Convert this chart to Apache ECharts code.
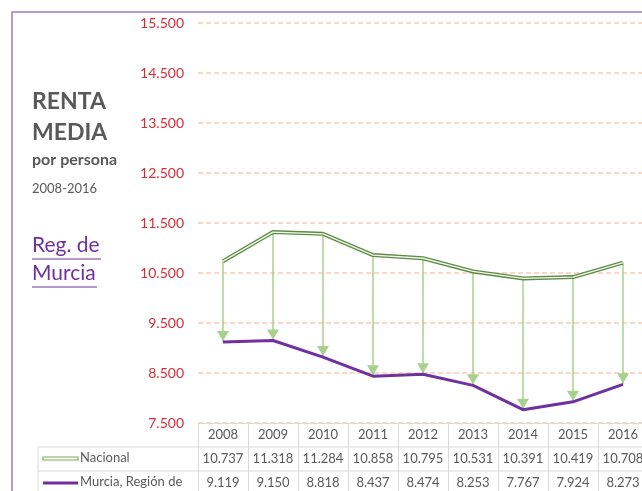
<!DOCTYPE html>
<html>
<head>
<meta charset="utf-8">
<script src="https://cdn.jsdelivr.net/npm/echarts@6/dist/echarts.min.js"></script>
<style>
  html, body { margin: 0; padding: 0; overflow: hidden; background: #fff; }
  #chart { width: 660px; height: 500px; }
</style>
</head>
<body>
<div id="chart"></div>
<script>
// datos
const years = ['2008', '2009', '2010', '2011', '2012', '2013', '2014', '2015', '2016']
const nacional = [10737, 11318, 11284, 10858, 10795, 10531, 10391, 10419, 10708]
const murcia = [9119, 9150, 8818, 8437, 8474, 8253, 7767, 7924, 8273]
const serieNames = ['Nacional', 'Murcia, Región de']

const FONT = 'Lato, "Open Sans", sans-serif'
const GRAY = '#595959'
const PURPLE = '#7030A0'

// formato 10.737
const fmt = v => String(v).replace(/\B(?=(\d{3})+(?!\d))/g, '.')

const chart = echarts.init(document.getElementById('chart'))

// flechas Nacional -> Murcia
const arrows = years.map((y, i) => [
  { xAxis: y, yAxis: nacional[i] },
  { xAxis: y, yAxis: murcia[i] }
])

const option = {
  animation: false,
  grid: { left: 198, right: 12, top: 23, bottom: 77 },
  xAxis: {
    type: 'category',
    data: years,
    boundaryGap: true,
    axisLine: { show: true, lineStyle: { color: '#d9d9d9', width: 1 } },
    axisTick: { show: true, length: 75, lineStyle: { color: '#d9d9d9', width: 1 } },
    axisLabel: {
      margin: 0,
      interval: 0,
      formatter: (v, i) => `{y|${v}}\n{n|${fmt(nacional[i])}}\n{m|${fmt(murcia[i])}}`,
      rich: {
        y: { lineHeight: 24, fontSize: 13, color: GRAY, fontFamily: FONT },
        n: { lineHeight: 24, fontSize: 13, color: GRAY, fontFamily: FONT },
        m: { lineHeight: 24, fontSize: 13, color: GRAY, fontFamily: FONT }
      }
    }
  },
  yAxis: {
    type: 'value',
    min: 7500,
    max: 15500,
    interval: 1000,
    axisLine: { show: false },
    axisTick: { show: false },
    axisLabel: { color: '#d42e35', fontSize: 14, fontFamily: FONT, margin: 14, formatter: fmt },
    splitLine: { lineStyle: { color: '#f8cdb3', type: [5, 3], width: 1.5 } }
  },
  series: [
    {
      name: serieNames[0],
      type: 'line',
      data: nacional,
      symbol: 'none',
      lineStyle: { color: '#5f8c45', width: 4 },
      z: 3
    },
    {
      name: serieNames[0] + ' (int)',
      type: 'line',
      data: nacional,
      symbol: 'none',
      lineStyle: { color: '#f2f8ee', width: 1.3 },
      z: 4
    },
    {
      name: serieNames[1],
      type: 'line',
      data: murcia,
      symbol: 'none',
      lineStyle: { color: PURPLE, width: 3 },
      z: 3,
      markLine: {
        silent: true,
        symbol: ['none', 'triangle'],
        symbolSize: [12, 10],
        symbolOffset: [[0, 0], [0, 6]],
        label: { show: false },
        lineStyle: { color: '#a9d18e', width: 1.5, type: 'solid' },
        data: arrows,
        z: 2
      }
    }
  ],
  graphic: [
    // marco
    { type: 'rect', shape: { x: 12, y: 12, width: 700, height: 600 }, style: { fill: 'none', stroke: '#9b7cc4', lineWidth: 1.5 }, silent: true },
    // titulo
    { type: 'text', left: 32, top: 90, style: { text: 'RENTA', font: `bold 23px ${FONT}`, fill: GRAY } },
    { type: 'text', left: 32, top: 121, style: { text: 'MEDIA', font: `bold 23px ${FONT}`, fill: GRAY } },
    { type: 'text', left: 32, top: 152, style: { text: 'por persona', font: `bold 16px ${FONT}`, fill: GRAY } },
    { type: 'text', left: 32, top: 182, style: { text: '2008-2016', font: `13px ${FONT}`, fill: GRAY } },
    { type: 'text', left: 32, top: 235, style: { text: 'Reg. de', font: `21px ${FONT}`, fill: PURPLE } },
    { type: 'line', shape: { x1: 32, y1: 259, x2: 101, y2: 259 }, style: { stroke: PURPLE, lineWidth: 1.2 } },
    { type: 'text', left: 32, top: 263, style: { text: 'Murcia', font: `21px ${FONT}`, fill: PURPLE } },
    { type: 'line', shape: { x1: 32, y1: 287, x2: 97, y2: 287 }, style: { stroke: PURPLE, lineWidth: 1.2 } },
    // tabla: columna leyenda
    { type: 'line', shape: { x1: 38, y1: 447, x2: 700, y2: 447 }, style: { stroke: '#d9d9d9', lineWidth: 1 } },
    { type: 'line', shape: { x1: 38, y1: 471, x2: 700, y2: 471 }, style: { stroke: '#d9d9d9', lineWidth: 1 } },
    { type: 'line', shape: { x1: 38, y1: 447, x2: 38, y2: 520 }, style: { stroke: '#d9d9d9', lineWidth: 1 } },
    { type: 'rect', shape: { x: 43, y: 457, width: 35, height: 3 }, style: { fill: '#ffffff', stroke: '#79b153', lineWidth: 1.2 } },
    { type: 'text', left: 80, top: 451, style: { text: serieNames[0], font: `13px ${FONT}`, fill: GRAY } },
    { type: 'line', shape: { x1: 43, y1: 483, x2: 78, y2: 483 }, style: { stroke: PURPLE, lineWidth: 3 } },
    { type: 'text', left: 80, top: 475, style: { text: serieNames[1], font: `13px ${FONT}`, fill: GRAY } }
  ]
}

chart.setOption(option)
</script>
</body>
</html>
